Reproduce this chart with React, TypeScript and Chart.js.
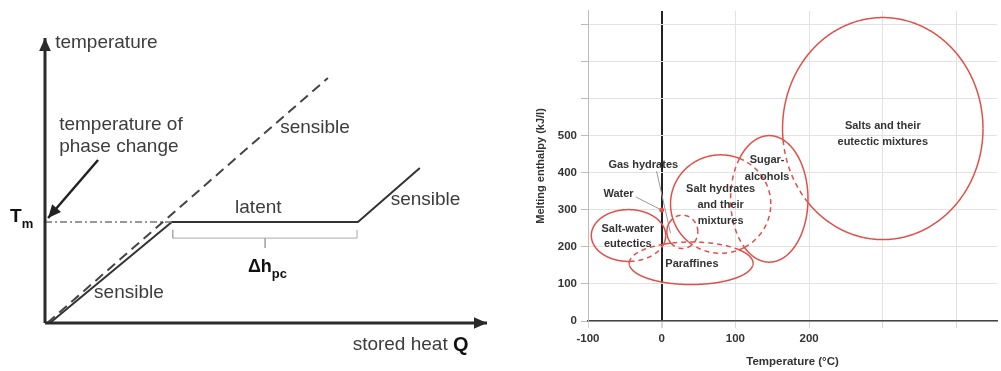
import React, { useEffect, useRef } from 'react';
import { Chart, registerables } from 'chart.js';
Chart.register(...registerables);

const FONT = "'Liberation Sans', Arial, Helvetica, sans-serif";
const RED = '#e0504a';

// ---------- Left diagram (schematic, relative units 0..100) ----------
const pcmHeat = [1.1, 28.7, 70.8, 84.8];
const pcmTemp = [0, 35.7, 35.7, 54.8];
const sensibleHeat = [0.5, 64.0];
const sensibleTemp = [0, 86.6];
const meltingTemp = 35.7;
const meltLineHeat = [0, 28.7];
const bracketHeat = [28.9, 49.8, 70.6];
const bracketLevels = [32.9, 30.0, 26.5];
const pointerHeat = [12.0, 0.7];
const pointerTemp = [57.6, 37.1];
const axisEnd = [100, 100.7];

const leftNotes = [
  { text: 'temperature', x: 2.3, y: 98.9 },
  { text: 'temperature of', x: 3.2, y: 70.0 },
  { text: 'phase change', x: 3.2, y: 62.3 },
  { text: 'sensible', x: 53.2, y: 68.9 },
  { text: 'latent', x: 43.0, y: 40.6 },
  { text: 'sensible', x: 78.2, y: 43.5 },
  { text: 'sensible', x: 11.1, y: 10.6 },
  { text: 'stored heat ', x: 69.6, y: -7.8 },
];

// ---------- Right chart (temperature °C vs melting enthalpy kJ/l) ----------
const materialNames = ['Salt-water eutectics', 'Gas hydrates', 'Salt hydrates', 'Sugar-alcohols', 'Paraffines', 'Salts'];
const centerTemps = [-45, 28, 80, 146, 40, 300];
const centerEnthalpies = [231, 241, 316, 330, 156, 520];
const tempHalfRanges = [50.5, 21, 68, 52.5, 84, 136];
const enthalpyHalfRanges = [70, 45, 133, 171, 57.5, 300];
const dashedWithin = [[4], [2, 4], [3, 4], [2], [0, 1, 2], [3]];

const waterPoint = { x: 0, y: 300 };
const waterLeader = [{ x: -35, y: 335 }, { x: -1.3, y: 301 }];
const gasLeader = [{ x: -7, y: 405 }, { x: 12, y: 237 }];

const tempTicksMax = 200;
const enthalpyTicksMax = 500;

const rightNotes = [
  { text: 'Salts and their', x: 300, y: 526 },
  { text: 'eutectic mixtures', x: 300, y: 483 },
  { text: 'Sugar-', x: 143, y: 434 },
  { text: 'alcohols', x: 143, y: 389 },
  { text: 'Gas hydrates', x: -25, y: 423 },
  { text: 'Water', x: -58.6, y: 342 },
  { text: 'Salt hydrates', x: 80, y: 356 },
  { text: 'and their', x: 80, y: 313 },
  { text: 'mixtures', x: 80, y: 270 },
  { text: 'Salt-water', x: -46, y: 248 },
  { text: 'eutectics', x: -46, y: 207 },
  { text: 'Paraffines', x: 41, y: 153 },
];

function zip(xs: number[], ys: number[]) {
  return xs.map((x, i) => ({ x, y: ys[i] }));
}

function drawHead(ctx: CanvasRenderingContext2D, x1: number, y1: number, x2: number, y2: number, size: number, color: string) {
  const ang = Math.atan2(y2 - y1, x2 - x1);
  ctx.save();
  ctx.fillStyle = color;
  ctx.beginPath();
  ctx.moveTo(x2, y2);
  ctx.lineTo(x2 - size * Math.cos(ang) + (size * 0.45) * Math.sin(ang), y2 - size * Math.sin(ang) - (size * 0.45) * Math.cos(ang));
  ctx.lineTo(x2 - size * Math.cos(ang) - (size * 0.45) * Math.sin(ang), y2 - size * Math.sin(ang) + (size * 0.45) * Math.cos(ang));
  ctx.closePath();
  ctx.fill();
  ctx.restore();
}

const leftPlugin = {
  id: 'leftDecor',
  afterDatasetsDraw(chart: any) {
    const { ctx, scales: { x, y } } = chart;
    chart.data.datasets.forEach((ds: any) => {
      if (!ds.arrowSize) return;
      const n = ds.data.length;
      const a = ds.data[n - 2], b = ds.data[n - 1];
      drawHead(ctx, x.getPixelForValue(a.x), y.getPixelForValue(a.y), x.getPixelForValue(b.x), y.getPixelForValue(b.y), ds.arrowSize, ds.borderColor);
    });
    ctx.save();
    ctx.textBaseline = 'middle';
    ctx.textAlign = 'left';
    ctx.fillStyle = '#3c3c3c';
    ctx.font = `19px ${FONT}`;
    leftNotes.forEach((n) => {
      ctx.fillText(n.text, x.getPixelForValue(n.x), y.getPixelForValue(n.y));
    });
    // Q after "stored heat "
    const sh = leftNotes[leftNotes.length - 1];
    const w = ctx.measureText(sh.text).width;
    ctx.fillStyle = '#111';
    ctx.font = `bold 20px ${FONT}`;
    ctx.fillText('Q', x.getPixelForValue(sh.x) + w, y.getPixelForValue(sh.y));
    // T_m
    const tx = x.getPixelForValue(-7.9), ty = y.getPixelForValue(37.6);
    ctx.font = `bold 19px ${FONT}`;
    ctx.fillText('T', tx, ty);
    const tw = ctx.measureText('T').width;
    ctx.font = `bold 13px ${FONT}`;
    ctx.fillText('m', tx + tw, ty + 8);
    // Δh_pc
    const dx = x.getPixelForValue(45.9), dy = y.getPixelForValue(19.8);
    ctx.font = `bold 18px ${FONT}`;
    ctx.fillText('Δh', dx, dy);
    const dw = ctx.measureText('Δh').width;
    ctx.font = `bold 13px ${FONT}`;
    ctx.fillText('pc', dx + dw, dy + 7);
    ctx.restore();
  },
};

const rightPlugin = {
  id: 'rightDecor',
  afterDatasetsDraw(chart: any) {
    const { ctx, scales: { x, y } } = chart;
    const N = 720;
    ctx.save();
    ctx.strokeStyle = RED;
    ctx.lineWidth = 1.5;
    for (let i = 0; i < materialNames.length; i++) {
      const cx = centerTemps[i], cy = centerEnthalpies[i];
      const rx = tempHalfRanges[i], ry = enthalpyHalfRanges[i];
      const inside = (t: number, h: number) =>
        dashedWithin[i].some((j) => ((t - centerTemps[j]) / tempHalfRanges[j]) ** 2 + ((h - centerEnthalpies[j]) / enthalpyHalfRanges[j]) ** 2 < 1);
      const pts: { px: number; py: number }[] = [];
      for (let k = 0; k <= N; k++) {
        const a = (2 * Math.PI * k) / N;
        pts.push({ px: x.getPixelForValue(cx + rx * Math.cos(a)), py: y.getPixelForValue(cy + ry * Math.sin(a)) });
      }
      const styles: boolean[] = [];
      for (let k = 0; k < N; k++) {
        const a = (2 * Math.PI * (k + 0.5)) / N;
        styles.push(inside(cx + rx * Math.cos(a), cy + ry * Math.sin(a)));
      }
      let k = 0;
      while (k < N) {
        const dashed = styles[k];
        ctx.beginPath();
        ctx.setLineDash(dashed ? [5, 4] : []);
        ctx.moveTo(pts[k].px, pts[k].py);
        while (k < N && styles[k] === dashed) {
          ctx.lineTo(pts[k + 1].px, pts[k + 1].py);
          k++;
        }
        ctx.stroke();
      }
    }
    ctx.setLineDash([]);
    ctx.fillStyle = '#333';
    ctx.font = `bold 11px ${FONT}`;
    ctx.textAlign = 'center';
    ctx.textBaseline = 'middle';
    rightNotes.forEach((n) => ctx.fillText(n.text, x.getPixelForValue(n.x), y.getPixelForValue(n.y)));
    ctx.restore();
  },
};

function leftConfig(): any {
  const dark = '#2a2a2a';
  return {
    type: 'scatter',
    data: {
      datasets: [
        { data: [{ x: 0, y: 0 }, { x: 0, y: axisEnd[1] - 3 }, { x: 0, y: axisEnd[1] }], borderColor: dark, borderWidth: 3, arrowSize: 13 },
        { data: [{ x: 0, y: 0 }, { x: axisEnd[0] - 2, y: 0 }, { x: axisEnd[0], y: 0 }], borderColor: dark, borderWidth: 3, arrowSize: 13 },
        { data: zip(sensibleHeat, sensibleTemp), borderColor: '#444', borderWidth: 2, borderDash: [10, 6] },
        { data: zip(meltLineHeat, [meltingTemp, meltingTemp]), borderColor: '#777', borderWidth: 1.5, borderDash: [7, 3, 2, 3] },
        { data: zip(pcmHeat, pcmTemp), borderColor: '#333', borderWidth: 2 },
        {
          data: [
            { x: bracketHeat[0], y: bracketLevels[0] },
            { x: bracketHeat[0], y: bracketLevels[1] },
            { x: bracketHeat[2], y: bracketLevels[1] },
            { x: bracketHeat[2], y: bracketLevels[0] },
          ],
          borderColor: '#aaa', borderWidth: 1,
        },
        { data: [{ x: bracketHeat[1], y: bracketLevels[1] }, { x: bracketHeat[1], y: bracketLevels[2] }], borderColor: '#aaa', borderWidth: 1 },
        { data: zip(pointerHeat, pointerTemp), borderColor: '#222', borderWidth: 2.5, arrowSize: 13 },
      ].map((d) => ({ showLine: true, pointRadius: 0, clip: false, fill: false, tension: 0, ...d })),
    },
    options: {
      responsive: false,
      animation: false,
      events: [],
      layout: { padding: { left: 45, right: 28, top: 40, bottom: 48 } },
      scales: {
        x: { type: 'linear', min: 0, max: 100, display: false },
        y: { type: 'linear', min: 0, max: 100, display: false },
      },
      plugins: { legend: { display: false }, tooltip: { enabled: false } },
    },
    plugins: [leftPlugin],
  };
}

function rightConfig(): any {
  const tickFont = { family: FONT, size: 11.5, weight: 'bold' };
  return {
    type: 'scatter',
    data: {
      datasets: [
        { data: waterLeader, showLine: true, borderColor: '#999', borderWidth: 1, pointRadius: 0 },
        { data: gasLeader, showLine: true, borderColor: '#999', borderWidth: 1, pointRadius: 0 },
        { data: [waterPoint], pointRadius: 2.5, backgroundColor: RED, borderWidth: 0 },
      ],
    },
    options: {
      responsive: false,
      animation: false,
      events: [],
      layout: { padding: { left: 0, right: 1, top: 10, bottom: 0 } },
      scales: {
        x: {
          type: 'linear', min: -100, max: 455,
          afterFit: (s: any) => { s.height = 50; },
          ticks: {
            stepSize: 100, includeBounds: false, autoSkip: false, maxRotation: 0, padding: 4,
            color: '#333', font: tickFont,
            callback: (v: number) => (v <= tempTicksMax ? String(v) : ''),
          },
          grid: {
            color: (c: any) => (c.tick && c.tick.value === 0 ? '#222' : '#e2e2e2'),
            lineWidth: (c: any) => (c.tick && c.tick.value === 0 ? 2 : 1),
            tickColor: '#d8d8d8', tickLength: 7,
          },
          border: { color: '#444', width: 1.5 },
          title: { display: true, text: 'Temperature (°C)', color: '#333', font: tickFont, padding: { top: 0, bottom: 2.4 } },
        },
        y: {
          type: 'linear', min: 0, max: 838,
          afterFit: (s: any) => { s.width = 68; },
          ticks: {
            stepSize: 100, includeBounds: false, padding: 4, color: '#333', font: tickFont,
            callback: (v: number) => (v <= enthalpyTicksMax ? String(v) : ''),
          },
          grid: { color: '#e2e2e2', tickColor: '#bbb', tickLength: 7 },
          border: { color: '#bbb', width: 1 },
          title: { display: true, text: 'Melting enthalpy (kJ/l)', color: '#333', font: { family: FONT, size: 11, weight: 'bold' }, padding: { top: 14, bottom: 0 } },
        },
      },
      plugins: { legend: { display: false }, tooltip: { enabled: false } },
    },
    plugins: [rightPlugin],
  };
}

export default function App() {
  const leftRef = useRef<HTMLCanvasElement>(null);
  const rightRef = useRef<HTMLCanvasElement>(null);
  useEffect(() => {
    const l = new Chart(leftRef.current as HTMLCanvasElement, leftConfig());
    const r = new Chart(rightRef.current as HTMLCanvasElement, rightConfig());
    return () => {
      l.destroy();
      r.destroy();
    };
  }, []);
  return (
    <div style={{ position: 'fixed', left: 0, top: 0, width: 1001, height: 371, background: '#fff', overflow: 'hidden' }}>
      <canvas ref={leftRef} width={515} height={371} style={{ position: 'absolute', left: 0, top: 0, width: 515, height: 371 }} />
      <canvas ref={rightRef} width={481} height={371} style={{ position: 'absolute', left: 520, top: 0, width: 481, height: 371 }} />
    </div>
  );
}
